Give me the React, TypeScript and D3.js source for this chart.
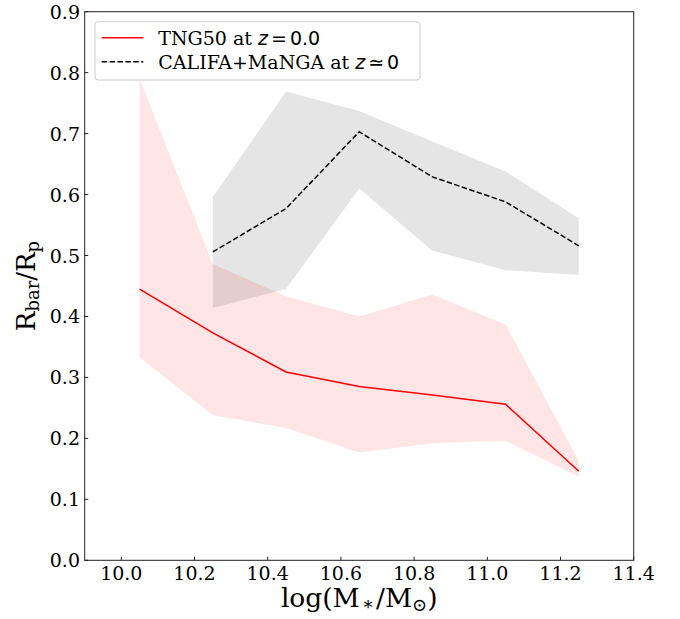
import React, { useEffect } from 'react';
import * as d3 from 'd3';

// stellar mass bins, log(M*/Msun)
const tngMass = [10.05, 10.25, 10.45, 10.65, 10.85, 11.05, 11.25];
const tngMedian = [0.445, 0.373, 0.309, 0.285, 0.271, 0.256, 0.146];
const tngLow = [0.333, 0.238, 0.217, 0.177, 0.192, 0.196, 0.137];
const tngHigh = [0.79, 0.486, 0.433, 0.4, 0.436, 0.387, 0.163];

const obsMass = [10.25, 10.45, 10.65, 10.85, 11.05, 11.25];
const obsMedian = [0.506, 0.577, 0.703, 0.629, 0.588, 0.516];
const obsLow = [0.414, 0.445, 0.61, 0.508, 0.476, 0.468];
const obsHigh = [0.596, 0.769, 0.737, 0.687, 0.638, 0.561];

const xTicks = [10.0, 10.2, 10.4, 10.6, 10.8, 11.0, 11.2, 11.4];
const yTicks = [0.0, 0.1, 0.2, 0.3, 0.4, 0.5, 0.6, 0.7, 0.8, 0.9];

const W = 680;
const H = 619;
const margin = { left: 84.7, right: 46.3, top: 11.7, bottom: 58.7 };

const serif = '"DejaVu Serif", serif';
const sans = '"DejaVu Sans", sans-serif';

const App = () => {
    useEffect(() => {
        document.body.style.margin = '0';
    }, []);

    const x = d3.scaleLinear().domain([9.9, 11.4]).range([margin.left, W - margin.right]);
    const y = d3.scaleLinear().domain([0, 0.9]).range([H - margin.bottom, margin.top]);

    const band = (xs: number[], lo: number[], hi: number[]) =>
        d3.area<number>()
            .x((_, i) => x(xs[i]))
            .y0((_, i) => y(lo[i]))
            .y1((_, i) => y(hi[i]))(xs) || '';

    const line = (xs: number[], ys: number[]) =>
        d3.line<number>()
            .x((_, i) => x(xs[i]))
            .y((d) => y(d))(ys) || '';

    const x0 = margin.left;
    const x1 = W - margin.right;
    const y0 = H - margin.bottom;
    const y1 = margin.top;

    return (
        <svg width={W} height={H} style={{ display: 'block', background: '#fff' }}>
            {/* shaded ranges */}
            <path d={band(tngMass, tngLow, tngHigh)} fill="red" fillOpacity={0.1} stroke="none" />
            <path d={band(obsMass, obsLow, obsHigh)} fill="black" fillOpacity={0.1} stroke="none" />

            {/* medians */}
            <path d={line(tngMass, tngMedian)} fill="none" stroke="red" strokeWidth={1.5} />
            <path d={line(obsMass, obsMedian)} fill="none" stroke="black" strokeWidth={1.5}
                strokeDasharray="5.5 2.4" />

            {/* frame */}
            <rect x={x0} y={y1} width={x1 - x0} height={y0 - y1} fill="none" stroke="#222" strokeWidth={1} />

            {/* x ticks */}
            {xTicks.map((t) => (
                <g key={'x' + t}>
                    <line x1={x(t)} x2={x(t)} y1={y0} y2={y0 - 3.5} stroke="#222" />
                    <text x={x(t)} y={580} textAnchor="middle" fontFamily={serif} fontSize={19} fill="#000">
                        {t.toFixed(1)}
                    </text>
                </g>
            ))}

            {/* y ticks */}
            {yTicks.map((t) => (
                <g key={'y' + t}>
                    <line x1={x0} x2={x0 + 3.5} y1={y(t)} y2={y(t)} stroke="#222" />
                    <text x={80} y={y(t)} textAnchor="end" dominantBaseline="central"
                        fontFamily={serif} fontSize={19} fill="#000">
                        {t.toFixed(1)}
                    </text>
                </g>
            ))}

            {/* axis labels */}
            <text x={(x0 + x1) / 2} y={607} textAnchor="middle" fontFamily={serif} fontSize={26.5} fill="#000">
                log(M<tspan fontSize={18} dx={2} dy={3}>∗</tspan><tspan dx={2} dy={-3}>/M</tspan>
                <tspan fontSize={18} dy={4}>⊙</tspan><tspan dy={-4}>)</tspan>
            </text>
            <text transform={`translate(35,${(y0 + y1) / 2}) rotate(-90)`} textAnchor="middle"
                fontFamily={serif} fontSize={26} fill="#000">
                R<tspan fontSize={18} dy={4}>bar</tspan><tspan dy={-4}>/R</tspan>
                <tspan fontSize={18} dy={4}>p</tspan>
            </text>

            {/* legend */}
            <rect x={95} y={21.7} width={325} height={58.3} rx={3} fill="#fff" fillOpacity={0.8}
                stroke="#ccc" strokeWidth={1} />
            <line x1={101.7} x2={143.3} y1={37.7} y2={37.7} stroke="red" strokeWidth={1.5} />
            <text x={158.3} y={44.5} fontFamily={serif} fontSize={19} fill="#000">
                TNG50 at <tspan fontFamily={sans} fontStyle="italic">z</tspan>
                <tspan fontFamily={sans} dx={3}>=</tspan>
                <tspan fontFamily={sans} dx={3}>0.0</tspan>
            </text>
            <line x1={101.7} x2={143.3} y1={61.7} y2={61.7} stroke="black" strokeWidth={1.5}
                strokeDasharray="5.5 2.4" />
            <text x={158.3} y={68.5} fontFamily={serif} fontSize={19} fill="#000">
                CALIFA+MaNGA at <tspan fontFamily={sans} fontStyle="italic">z</tspan>
                <tspan fontFamily={sans} dx={3}>≃</tspan>
                <tspan fontFamily={sans} dx={3}>0</tspan>
            </text>
        </svg>
    );
};

export default App;
